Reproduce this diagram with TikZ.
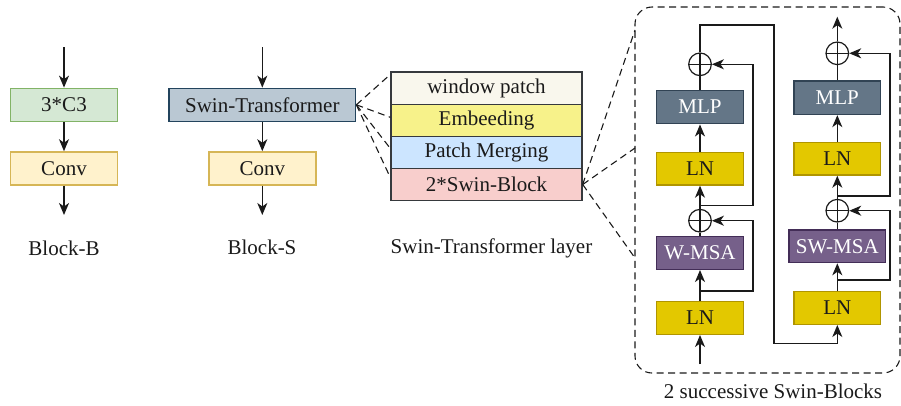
\documentclass[tikz,border=0pt]{standalone}
\usepackage{fontspec}
\setmainfont{Liberation Serif}
\usetikzlibrary{arrows.meta,calc}

\definecolor{c3fill}{HTML}{D5E8D4}\definecolor{c3line}{HTML}{82B366}
\definecolor{convfill}{HTML}{FFF2CC}\definecolor{convline}{HTML}{D6B656}
\definecolor{stfill}{HTML}{BAC8D3}\definecolor{stline}{HTML}{23445D}
\definecolor{wpfill}{HTML}{F9F7ED}\definecolor{grayline}{HTML}{36393D}
\definecolor{embfill}{HTML}{F7F28A}
\definecolor{pmfill}{HTML}{CCE5FF}
\definecolor{sbfill}{HTML}{F8CECC}
\definecolor{mlpfill}{HTML}{647687}\definecolor{mlpline}{HTML}{314354}
\definecolor{lnfill}{HTML}{E3C800}\definecolor{lnline}{HTML}{B09500}
\definecolor{msafill}{HTML}{76608A}\definecolor{msaline}{HTML}{432D57}
\definecolor{ink}{HTML}{1A1A1A}

\tikzset{
  every node/.append style={font=\fontsize{21}{25}\selectfont, text=ink},
  box/.style={draw, line width=1.4pt, inner sep=0pt, minimum height=33pt},
  c3box/.style={box, fill=c3fill, draw=c3line, minimum width=107pt},
  convbox/.style={box, fill=convfill, draw=convline, minimum width=107pt},
  stbox/.style={box, fill=stfill, draw=stline, minimum width=186.7pt},
  layerrow/.style={box, draw=grayline, minimum width=191pt, minimum height=32.1pt},
  lnbox/.style={box, fill=lnfill, draw=lnline, minimum width=86.5pt, minimum height=32.6pt},
  mlpbox/.style={box, fill=mlpfill, draw=mlpline, minimum width=86.5pt, minimum height=33.5pt, text=white},
  msabox/.style={box, fill=msafill, draw=msaline, minimum height=32.6pt, text=white},
  addop/.style={circle, draw=ink, line width=1.2pt, minimum size=22.6pt, inner sep=0pt,
    path picture={\draw[ink, line width=1.2pt]
      (path picture bounding box.north) -- (path picture bounding box.south)
      (path picture bounding box.west) -- (path picture bounding box.east);}},
  flow/.style={draw=ink, line width=1.3pt},
  arr/.style={flow, -{Stealth[length=12pt,width=10pt,inset=3.5pt]}},
  dashline/.style={draw=ink, line width=1.1pt, dash pattern=on 7pt off 4.5pt},
  caption/.style={inner sep=0pt}
}

\begin{document}
\begin{tikzpicture}[x=1pt, y=-1pt]
\useasboundingbox (0,0) rectangle (901,405);

% ---- Block-B ----
\coordinate (inB) at (64,47);
\coordinate (outB) at (64,215);
\node[c3box] (c3) at (64,104.8) {3*C3};
\node[convbox] (convB) at (64,168.4) {Conv};
\draw[arr] (inB) -- (c3.north);
\draw[arr] (c3.south) -- (convB.north);
\draw[arr] (convB.south) -- (outB);
\node[caption] (capB) at (64,248) {Block-B};

% ---- Block-S ----
\coordinate (inS) at (262.3,47);
\coordinate (outS) at (262.3,215);
\node[stbox] (st) at (262.3,104.8) {Swin-Transformer};
\node[convbox] (convS) at (262.3,168.4) {Conv};
\draw[arr] (inS) -- (st.north);
\draw[arr] (st.south) -- (convS.north);
\draw[arr] (convS.south) -- (outS);
\node[caption] (capS) at (262,247) {Block-S};

% ---- Swin-Transformer layer ----
\node[layerrow, fill=wpfill]  (wp)  at (486.5,88.2)  {window patch};
\node[layerrow, fill=embfill] (emb) at (486.5,120.3) {Embeeding};
\node[layerrow, fill=pmfill]  (pm)  at (486.5,152.4) {Patch Merging};
\node[layerrow, fill=sbfill]  (sb)  at (486.5,184.5) {2*Swin-Block};
\node[caption] (capL) at (491.5,248) {Swin-Transformer layer};

\draw[dashline] (st.east) -- ([yshift=-3pt]wp.north west);
\draw[dashline] (st.east) -- ([yshift=3pt]emb.west);
\draw[dashline] (st.east) -- ([yshift=4pt]pm.west);
\draw[dashline] (st.east) -- ([yshift=7pt]sb.west);

% ---- 2 successive Swin-Blocks ----
\node[draw=ink, line width=1.1pt, dash pattern=on 7pt off 4.5pt, rounded corners=17pt,
      minimum width=265pt, minimum height=366pt, inner sep=0pt] (frame) at (767.5,190) {};
\node[caption] (capF) at (773,391) {2 successive Swin-Blocks};

\coordinate (fa) at (635,30);
\coordinate (fb) at (635,148);
\coordinate (fc) at (635,258);
\draw[dashline] (sb.east) -- (fa);
\draw[dashline] (sb.east) -- (fb);
\draw[dashline] (sb.east) -- (fc);

% first block: W-MSA
\node[lnbox]  (ln1)  at (700,318)   {LN};
\node[msabox, minimum width=86.5pt] (wmsa) at (700,253) {W-MSA};
\node[addop]  (add1) at (700,220.7) {};
\node[lnbox]  (ln2)  at (700,168.7) {LN};
\node[mlpbox] (mlp1) at (700,107)   {MLP};
\node[addop]  (add2) at (700,64.3)  {};

\coordinate (in1) at (700,364);
\draw[arr] (in1) -- (ln1.south);
\draw[arr] (ln1.north) -- (wmsa.south);
\draw[arr] (700,291) -- (753,291) |- (add1.east);
\draw[flow] (wmsa.north) -- (add1.south);
\draw[arr] (add1.north) -- (ln2.south);
\draw[arr] (700,205.7) -- (753,205.7) |- (add2.east);
\draw[arr] (ln2.north) -- (mlp1.south);
\draw[flow] (mlp1.north) -- (add2.south);

% second block: SW-MSA
\node[lnbox]  (ln3)   at (837.3,308)   {LN};
\node[msabox, minimum width=96.7pt] (swmsa) at (837.3,246.3) {SW-MSA};
\node[addop]  (add3)  at (837.3,210.7) {};
\node[lnbox]  (ln4)   at (837.3,158.7) {LN};
\node[mlpbox] (mlp2)  at (837.3,97.7)  {MLP};
\node[addop]  (add4)  at (837.3,53.3)  {};

\draw[arr] (add2.north) -- (700,25) -- (774,25) -- (774,343.3) -| (ln3.south);
\draw[arr] (ln3.north) -- (swmsa.south);
\draw[arr] (837.3,280) -- (890,280) |- (add3.east);
\draw[flow] (swmsa.north) -- (add3.south);
\draw[arr] (add3.north) -- (ln4.south);
\draw[arr] (837.3,196) -- (890,196) |- (add4.east);
\draw[arr] (ln4.north) -- (mlp2.south);
\draw[flow] (mlp2.north) -- (add4.south);
\coordinate (out2) at (837.3,16.7);
\draw[arr] (add4.north) -- (out2);
\end{tikzpicture}
\end{document}
